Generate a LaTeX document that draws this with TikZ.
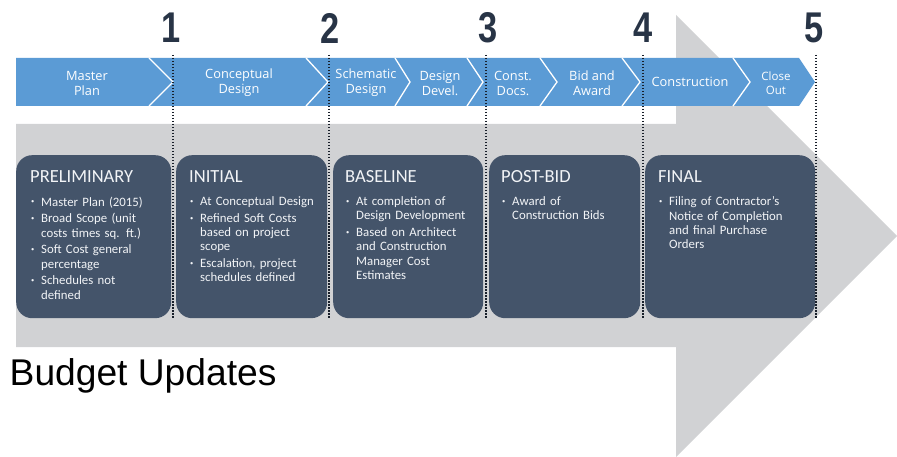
\documentclass[tikz,border=0pt]{standalone}
\usepackage{fontspec}
\setmainfont{Carlito}
\newfontfamily\bandfont{Open Sans}
\newfontfamily\labelfont{Liberation Sans}
\usepackage{graphicx}
\usepackage{tikz}
\usetikzlibrary{positioning, calc}

\definecolor{bandblue}{RGB}{91,155,213}
\definecolor{arrowgray}{RGB}{209,210,212}
\definecolor{boxslate}{RGB}{68,84,106}
\definecolor{marknavy}{RGB}{40,52,70}
\definecolor{boxtext}{RGB}{242,244,247}

\newcommand{\bitem}[1]{\hangindent=9pt\hangafter=1\noindent\makebox[9pt][l]{\hspace{-1pt}\raisebox{2.2pt}{\fontsize{6.5}{6.5}\selectfont •}}#1\par}

\begin{document}
\begin{tikzpicture}[x=1pt, y=-1pt,
		phasebox/.style={draw=none, fill=boxslate, rounded corners=16pt, anchor=north west, inner sep=0pt},
		phasetitle/.style={anchor=base west, inner sep=0pt, text=boxtext, font=\fontsize{18.5}{20}\selectfont},
		phaselist/.style={anchor=north west, inner sep=0pt, text=boxtext, text width=150pt, align=left,
			font=\fontsize{12.8}{14.3}\selectfont, execute at begin node={\setlength{\parskip}{2.4pt}}},
		steplabel/.style={text=white, align=center, inner sep=0pt, font=\bandfont\fontsize{12.8}{15}\selectfont},
		divider/.style={draw=white, line width=1.3pt},
		marknum/.style={text=marknavy, inner sep=0pt, font=\labelfont\bfseries\fontsize{43}{43}\selectfont},
		marker/.style={draw=marknavy!60!black, line width=2.2pt, dash pattern=on 1.5pt off 1.5pt}]
	\useasboundingbox (0,0) rectangle (897,457);

	% big background arrow
	\fill[arrowgray] (16,124) -- (676,124) -- (676,15) -- (897,236) -- (676,457) -- (676,347) -- (16,347) -- cycle;

	% process band
	\fill[bandblue] (16,58) -- (799,58) -- (815,82) -- (799,106) -- (16,106) -- cycle;
	\foreach \a/\b in {149/173, 306/328, 395/410, 467/483, 540/557, 622/640, 733/750}
		\draw[divider] (\a,58) -- (\b,82) -- (\a,106);

	\node[steplabel] (mplan) at (87,83) {Master\\Plan};
	\node[steplabel] (concept) at (239,83) {Conceptual\\Design};
	\node[steplabel] (schem) at (366,83) {Schematic\\Design};
	\node[steplabel] (devel) at (440,83) {Design\\Devel.};
	\node[steplabel] (docs) at (513,83) {Const.\\Docs.};
	\node[steplabel] (bid) at (592,83) {Bid and\\Award};
	\node[steplabel] (constr) at (690,82) {Construction};
	\node[steplabel, font=\bandfont\fontsize{11.5}{14}\selectfont] (close) at (776,83) {Close\\Out};

	% budget phases
	\node[phasebox, minimum width=155pt, minimum height=163pt] (b1) at (16,155) {};
	\node[phasebox, minimum width=151pt, minimum height=163pt] (b2) at (176,155) {};
	\node[phasebox, minimum width=150pt, minimum height=163pt] (b3) at (333,155) {};
	\node[phasebox, minimum width=151pt, minimum height=163pt] (b4) at (489,155) {};
	\node[phasebox, minimum width=170pt, minimum height=163pt] (b5) at (645,155) {};

	\node[phasetitle] (prelim) at (30,183) {PRELIMINARY};
	\node[phaselist] (prelimlist) at (32,196.5) {%
		\bitem{Master Plan (2015)}
		\bitem{Broad Scope (unit\newline costs times sq. ft.)}
		\bitem{Soft Cost general\newline percentage}
		\bitem{Schedules not\newline defined}};

	\node[phasetitle] (initial) at (189,183) {INITIAL};
	\node[phaselist] (initiallist) at (191,196.5) {%
		\bitem{At Conceptual Design}
		\bitem{Refined Soft Costs\newline based on project\newline scope}
		\bitem{Escalation, project\newline schedules defined}};

	\node[phasetitle] (baseline) at (345,183) {BASELINE};
	\node[phaselist] (baselinelist) at (347,196.5) {%
		\bitem{At completion of\newline Design Development}
		\bitem{Based on Architect\newline and Construction\newline Manager Cost\newline Estimates}};

	\node[phasetitle] (postbid) at (501,183) {POST-BID};
	\node[phaselist] (postbidlist) at (503,196.5) {%
		\bitem{Award of\newline Construction Bids}};

	\node[phasetitle] (final) at (658,183) {FINAL};
	\node[phaselist] (finallist) at (660,196.5) {%
		\bitem{Filing of Contractor’s\newline Notice of Completion\newline and final Purchase\newline Orders}};

	% milestones
	\foreach \x/\nx/\n in {173/171/1, 329/330/2, 486/488/3, 643/643/4, 816/814/5}{
		\node[marknum] (num\n) at (\nx,28) {\scalebox{0.8}[1]{\n}};
		\coordinate (top\n) at (\x,55);
		\coordinate (bot\n) at (\x,318);
		\draw[marker] (top\n) -- (bot\n);
	}

	\node[anchor=base west, inner sep=0pt, font=\labelfont\fontsize{37.2}{40}\selectfont] (budget) at (9.5,385) {Budget Updates};

\end{tikzpicture}
\end{document}
